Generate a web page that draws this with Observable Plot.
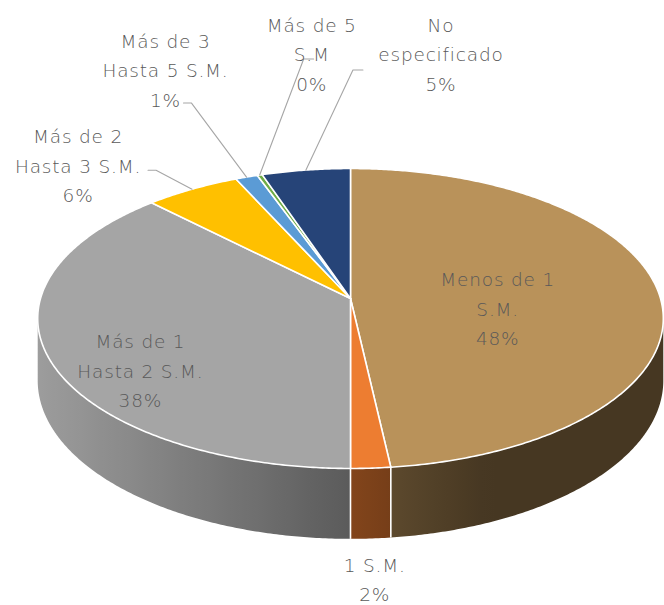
<!DOCTYPE html>
<html><head><meta charset="utf-8">
<script src="https://cdn.jsdelivr.net/npm/d3@7"></script>
<script src="https://cdn.jsdelivr.net/npm/@observablehq/plot@0.6"></script>
<style>
body{margin:0;background:#fff;}
#chart svg text{letter-spacing:0.8px;}
</style>
</head><body><div id="chart"></div>
<script>
// ---- data ----
const categories = ["Menos de 1 S.M.", "1 S.M.", "Más de 1 Hasta 2 S.M.", "Más de 2 Hasta 3 S.M.", "Más de 3 Hasta 5 S.M.", "Más de 5 S.M", "No especificado"];
const labelLines = [["Menos de 1", "S.M."], ["1 S.M."], ["Más de 1", "Hasta 2 S.M."], ["Más de 2", "Hasta 3 S.M."], ["Más de 3", "Hasta 5 S.M."], ["Más de 5", "S.M"], ["No", "especificado"]];
const values = [48.2, 1.8, 37.6, 5.6, 1.3, 0.3, 5.2];

// ---- styles ----
const colors = ["#b9925a", "#ed7d31", "#a5a5a5", "#ffc000", "#5b9bd5", "#70ad47", "#264478"];

// ---- layout (label placement, pixel offsets) ----
const labelLayout = [
  {kind: "inside", r: 0.5, off: [-7, 12]},
  {kind: "below", off: [4, 39]},
  {kind: "inside", r: 0.5, off: [-63, 41]},
  {kind: "leader", elbow: [-36, -19], tick: -8, off: [-70, -7]},
  {kind: "leader", elbow: [-55, -74], tick: -8, off: [-18, -35]},
  {kind: "leader", elbow: [44, -116], tick: 10, off: [-2, -7]},
  {kind: "leader", elbow: [47, -100], tick: 10, off: [78, -18]}
];

// ---- 3D pie geometry (perspective tilt) ----
const W = 664, H = 605, CX = 350, CY = 298;
const R = 310, A = 147.3, K = 0.1333, T = 61;
function proj(theta, r, depth) {
  const t = theta * Math.PI / 180, u = r * Math.sin(t), v = r * Math.cos(t), s = 1 + K * v;
  return [R * u / s, (-A * v + T * depth) / s];
}
const total = d3.sum(values);
let acc = 0;
const slices = values.map((v, i) => {
  const a0 = acc / total * 360; acc += v; const a1 = acc / total * 360;
  return {i, name: categories[i], value: v, a0, a1, mid: (a0 + a1) / 2, color: colors[i]};
});

// side-wall shading factor by horizontal screen position
const shade = sx => Math.max(0.38, Math.min(0.97, 0.55 - 0.4 * sx));

// side walls (visible front part)
const visLo = Math.acos(-K) * 180 / Math.PI, visHi = 360 - visLo;
const wallRows = [];
slices.forEach(sl => {
  const a0 = Math.max(sl.a0, visLo), a1 = Math.min(sl.a1, visHi);
  if (a1 <= a0) return;
  const n = Math.max(2, Math.ceil((a1 - a0) * 2));
  const top = [], bot = [];
  for (let j = 0; j <= n; j++) {
    const a = a0 + (a1 - a0) * j / n;
    top.push(proj(a, 1, 0)); bot.push(proj(a, 1, 1));
  }
  for (const p of top.concat(bot.reverse())) wallRows.push({id: sl.i, x: p[0], y: p[1], fill: `url(#wall${sl.i})`});
});
const wallEdges = [];
slices.forEach(sl => {
  const a = sl.a0;
  if (a > visLo && a < visHi) {
    const p = proj(a, 1, 0), q = proj(a, 1, 1);
    wallEdges.push({x1: p[0], y1: p[1], x2: q[0], y2: q[1]});
  }
});

// top faces
const topRows = [];
slices.forEach(sl => {
  const c0 = proj(0, 0, 0);
  topRows.push({id: sl.i, x: c0[0], y: c0[1], col: sl.color});
  const n = Math.max(2, Math.ceil((sl.a1 - sl.a0) / 0.5));
  for (let j = 0; j <= n; j++) {
    const p = proj(sl.a0 + (sl.a1 - sl.a0) * j / n, 1, 0);
    topRows.push({id: sl.i, x: p[0], y: p[1], col: sl.color});
  }
});

// labels + leaders
const leaderRows = [], labelRows = [];
slices.forEach(sl => {
  const L = labelLayout[sl.i];
  let ax, ay;
  if (L.kind === "inside") {
    [ax, ay] = proj(sl.mid, L.r, 0);
  } else if (L.kind === "below") {
    [ax, ay] = proj(sl.mid, 1, 1);
  } else {
    const rim = proj(sl.mid, 1, 0);
    const ex = rim[0] + L.elbow[0], ey = rim[1] + L.elbow[1];
    leaderRows.push({id: sl.i, x: rim[0], y: rim[1]}, {id: sl.i, x: ex, y: ey}, {id: sl.i, x: ex + L.tick, y: ey});
    ax = ex + L.tick; ay = ey;
  }
  labelRows.push({
    x: ax + L.off[0], y: ay + L.off[1],
    text: labelLines[sl.i].join("\n") + "\n" + Math.round(sl.value / total * 100) + "%"
  });
});

const chart = Plot.plot({
  width: W, height: H, margin: 0,
  x: {domain: [-CX, W - CX], range: [0, W], axis: null},
  y: {domain: [-CY, H - CY], range: [0, H], axis: null},
  color: {type: "identity"},
  style: {background: "#fff"},
  marks: [
    Plot.line(wallRows, {x: "x", y: "y", z: "id", fill: "fill", stroke: "none", curve: "linear-closed"}),
    Plot.link(wallEdges, {x1: "x1", y1: "y1", x2: "x2", y2: "y2", stroke: "#ffffff", strokeWidth: 1.6}),
    Plot.line(topRows, {x: "x", y: "y", z: "id", fill: "col", stroke: "#ffffff", strokeWidth: 1.6, curve: "linear-closed"}),
    Plot.line(leaderRows, {x: "x", y: "y", z: "id", stroke: "#a6a6a6", strokeWidth: 1.1, strokeLinejoin: "miter"}),
    Plot.text(labelRows, {x: "x", y: "y", text: "text", fontSize: 18.5, lineHeight: 1.58, fill: "#595959",
      fontFamily: "DejaVu Sans", fontWeight: 200, lineAnchor: "middle"})
  ]
});

// horizontal shading gradients for the side walls
const svg = d3.select(chart);
const defs = svg.insert("defs", ":first-child");
slices.forEach(sl => {
  const c = d3.rgb(sl.color);
  const g = defs.append("linearGradient").attr("id", `wall${sl.i}`)
    .attr("gradientUnits", "userSpaceOnUse").attr("x1", 0).attr("x2", W).attr("y1", 0).attr("y2", 0);
  for (let px = 0; px <= W; px += 16) {
    const f = shade((px - CX) / 313);
    g.append("stop").attr("offset", px / W).attr("stop-color", d3.rgb(c.r * f, c.g * f, c.b * f).formatHex());
  }
});
document.getElementById("chart").appendChild(chart);
</script>
</body></html>
